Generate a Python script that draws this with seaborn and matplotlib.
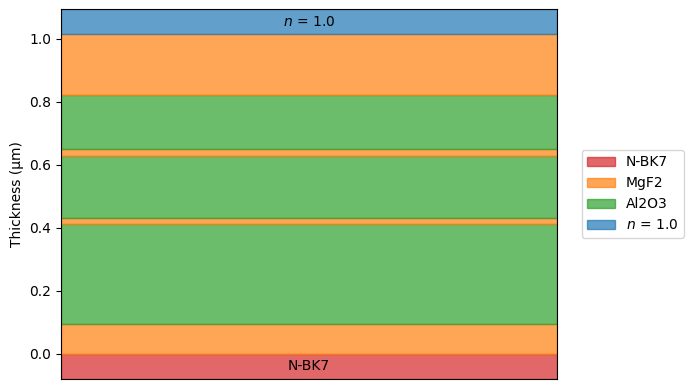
import matplotlib
matplotlib.use("Agg")
import matplotlib.pyplot as plt
import seaborn as sns

# layer stack, bottom to top (thickness in um)
materials = ["MgF2", "Al2O3", "MgF2", "Al2O3", "MgF2", "Al2O3", "MgF2"]
thickness = [0.094, 0.318, 0.020, 0.195, 0.024, 0.172, 0.192]
substrate = "N-BK7"
ambient = "$n$ = 1.0"
pad = 0.08

pal = sns.color_palette("tab10")
colors = {"N-BK7": pal[3], "MgF2": pal[1], "Al2O3": pal[2], ambient: pal[0]}

fig, ax = plt.subplots(figsize=(6.94, 3.89), dpi=100)
fig.subplots_adjust(left=0.088, right=0.803, top=0.977, bottom=0.026)

x = [0, 1]
total = sum(thickness)

ax.fill_between(x, -pad, 0, color=colors[substrate], alpha=0.7, label=substrate)
z = 0.0
seen = set()
for mat, t in zip(materials, thickness):
    lab = mat if mat not in seen else None
    seen.add(mat)
    ax.fill_between(x, z, z + t, color=colors[mat], alpha=0.7, label=lab)
    z += t
ax.fill_between(x, total, total + pad, color=colors[ambient], alpha=0.7, label=ambient)

ax.text(0.5, -pad / 2, substrate, ha="center", va="center", fontsize=10)
ax.text(0.5, total + pad / 2, ambient, ha="center", va="center", fontsize=10)

ax.set_xlim(0, 1)
ax.set_ylim(-pad, total + pad)
ax.set_xticks([])
ax.set_ylabel("Thickness (µm)")
ax.legend(loc="center left", bbox_to_anchor=(1.035, 0.5))

plt.savefig("out.png", dpi=100)
